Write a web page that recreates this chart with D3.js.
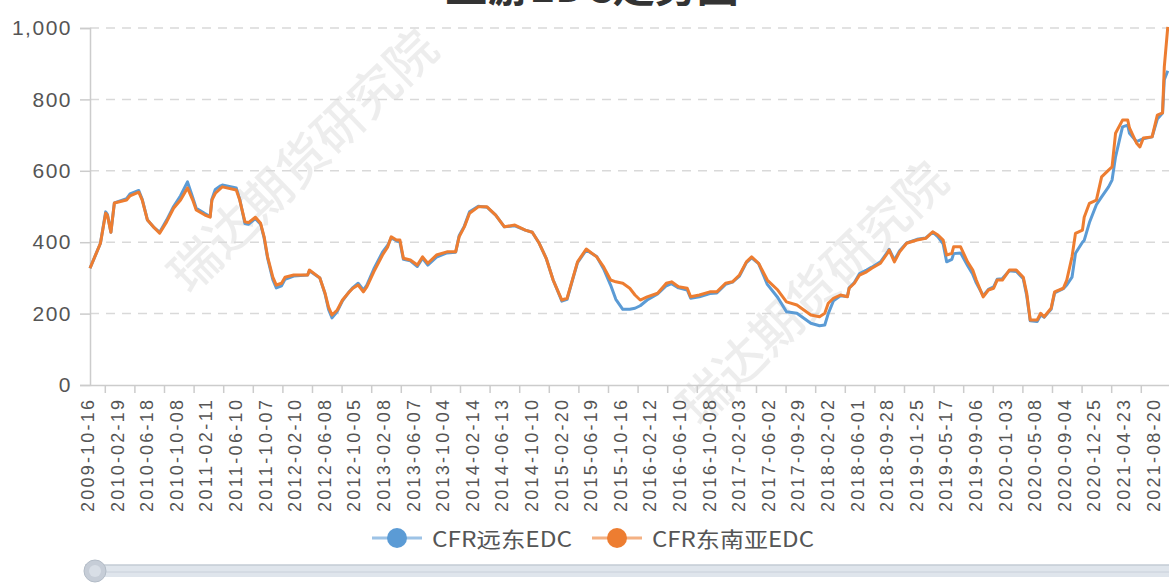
<!DOCTYPE html>
<html>
<head>
<meta charset="utf-8">
<script src="https://cdn.jsdelivr.net/npm/d3@7"></script>
<style>
  body { margin: 0; background: #fff; }
  svg { display: block; font-family: "Microsoft YaHei", "Noto Sans CJK SC", sans-serif; }
</style>
</head>
<body>
<div id="chart"></div>
<script>
// x axis: weekly categories, one label shown every 17 weeks
const tickLabels = ['2009-10-16','2010-02-19','2010-06-18','2010-10-08','2011-02-11','2011-06-10','2011-10-07',
  '2012-02-10','2012-06-08','2012-10-05','2013-02-08','2013-06-07','2013-10-04','2014-02-14','2014-06-13',
  '2014-10-10','2015-02-20','2015-06-19','2015-10-16','2016-02-12','2016-06-10','2016-10-08','2017-02-03',
  '2017-06-02','2017-09-29','2018-02-02','2018-06-01','2018-09-28','2019-01-25','2019-05-17','2019-09-06',
  '2020-01-03','2020-05-08','2020-09-04','2020-12-25','2021-04-23','2021-08-20'];
const labelStep = 17;
const lastWeek = 622;

// week index of each sample (0 = 2009-10-16)
const weekIdx = [0,6,9,10,12,14,21,23,28,30,33,37,40,44,48,52,56,59,61,66,69,70,72,75,76,84,86,89,91,95,
  98,100,102,105,107,110,112,117,125,126,132,135,137,139,142,145,149,151,154,157,159,163,168,171,173,176,178,180,184,188,
  191,194,199,205,210,212,215,218,223,228,233,238,244,250,254,258,262,266,271,274,277,280,285,291,295,299,302,306,310,313,
  316,320,326,331,334,338,343,345,350,356,360,365,369,373,377,380,384,389,395,400,406,414,419,422,424,427,431,435,436,439,
  442,446,449,454,458,459,462,465,469,475,480,484,487,490,492,495,496,500,504,507,509,513,516,519,521,524,528,532,536,538,
  540,544,546,548,552,554,559,561,564,566,570,571,574,578,581,585,587,589,593,596,597,601,603,605,610,613,616,617,619];

const cfrFarEast = [327,397,485,478,428,510,522,535,545,520,462,440,428,462,500,530,569,525,495,480,
  472,520,548,558,560,552,520,452,450,466,450,412,355,295,272,278,296,305,308,320,
  300,255,212,188,206,236,262,273,285,266,280,325,372,392,412,404,400,352,348,332,
  355,336,358,370,372,418,445,485,501,498,476,443,446,434,428,397,355,294,235,240,
  292,343,378,360,325,280,240,212,212,215,222,238,255,278,284,272,266,243,247,256,
  258,282,288,305,343,356,340,282,245,205,201,173,166,168,200,236,250,248,272,287,
  312,322,330,345,372,380,350,376,398,408,412,428,415,395,345,352,368,370,335,310,
  286,250,268,275,296,298,320,318,298,250,180,178,196,190,212,258,270,280,302,369,
  400,405,455,505,527,555,574,639,723,728,705,682,686,690,695,745,762,855,880];

const cfrSEAsia = [327,397,481,475,428,510,518,530,540,518,462,440,425,457,495,518,552,518,490,476,
  470,518,537,551,555,546,518,457,455,470,453,415,359,302,280,285,302,308,308,322,
  300,257,218,196,210,238,261,271,280,261,275,317,364,387,415,406,406,355,350,336,
  359,341,364,373,373,415,443,481,499,499,476,443,448,434,428,397,355,294,238,243,
  294,345,381,359,331,294,289,285,271,252,238,247,257,285,289,275,271,247,252,261,
  261,285,289,308,345,359,341,294,266,233,224,196,191,201,229,243,252,247,271,285,
  308,317,327,341,369,378,345,373,397,406,411,429,420,406,364,369,387,387,345,322,
  294,247,266,271,294,294,322,322,302,257,182,182,201,191,215,261,271,294,359,425,
  434,470,509,518,583,602,611,705,742,742,720,678,667,692,695,756,762,891,1003];

const yTicks = [0, 200, 400, 600, 800, 1000];
const seriesNames = ['CFR远东EDC', 'CFR东南亚EDC'];
const colors = ['#5b9bd5', '#ed7d31'];

const width = 1169;
const height = 583;
const margin = {top: 28, left: 90, bottom: 198};

const svg = d3.select('#chart')
  .append('svg')
  .attr('width', width)
  .attr('height', height);

const x = d3.scaleLinear()
  .domain([0, lastWeek])
  .range([margin.left, 1173]);

const y = d3.scaleLinear()
  .domain([0, 1000])
  .range([height - margin.bottom, margin.top]);

// title (cut off at the top of the picture, as in the source)
svg.append('text')
  .attr('x', 592)
  .attr('y', 2)
  .attr('text-anchor', 'middle')
  .attr('font-size', 42)
  .attr('font-weight', 'bold')
  .attr('fill', '#333')
  .text('上游EDC走势图');

// watermark
[[300, 158], [810, 290]].forEach(([cx, cy]) => {
  svg.append('text')
    .attr('transform', `translate(${cx},${cy}) rotate(-44)`)
    .attr('text-anchor', 'middle')
    .attr('dominant-baseline', 'central')
    .attr('font-size', 50)
    .attr('font-weight', 500)
    .attr('fill', '#000')
    .attr('fill-opacity', 0.07)
    .text('瑞达期货研究院');
});

// grid
svg.append('g')
  .selectAll('line')
  .data(yTicks.filter(d => d > 0))
  .join('line')
    .attr('x1', margin.left)
    .attr('x2', width)
    .attr('y1', d => y(d))
    .attr('y2', d => y(d))
    .attr('stroke', '#d9d9d9')
    .attr('stroke-width', 1.5)
    .attr('stroke-dasharray', '9,7');

// y axis
svg.append('g')
  .attr('transform', `translate(${margin.left},0)`)
  .call(d3.axisLeft(y).tickValues(yTicks).tickSize(10).tickPadding(8).tickFormat(d3.format(',')))
  .call(g => g.select('.domain').attr('stroke', '#ccc').attr('stroke-width', 1.5))
  .call(g => g.selectAll('.tick line').attr('stroke', '#ccc').attr('stroke-width', 1.5))
  .call(g => g.selectAll('.tick text')
    .attr('font-size', 21)
    .attr('letter-spacing', '1.5px')
    .attr('fill', '#555')
    .attr('font-family', 'Arial, "Liberation Sans", sans-serif'));

// x axis: ticks sit halfway between labels
const labelIdx = tickLabels.map((d, i) => i * labelStep);
const tickIdx = labelIdx.map(i => i + labelStep / 2).filter(i => i < lastWeek);

svg.append('g')
  .attr('transform', `translate(0,${y(0)})`)
  .call(d3.axisBottom(x).tickValues(tickIdx).tickSize(8).tickSizeOuter(0).tickFormat(''))
  .call(g => g.select('.domain').attr('stroke', '#ccc').attr('stroke-width', 1.5))
  .call(g => g.selectAll('.tick line').attr('stroke', '#ccc').attr('stroke-width', 1.5));

svg.append('g')
  .selectAll('text')
  .data(labelIdx)
  .join('text')
    .attr('transform', d => `translate(${x(d)},${y(0) + 15}) rotate(-90)`)
    .attr('y', -2)
    .attr('text-anchor', 'end')
    .attr('dominant-baseline', 'central')
    .attr('font-size', 18)
    .attr('font-family', 'Arial, "Liberation Sans", sans-serif')
    .attr('fill', '#555')
    .attr('textLength', 112)
    .attr('lengthAdjust', 'spacing')
    .text((d, i) => tickLabels[i]);

// lines
const series = [cfrFarEast, cfrSEAsia];
const line = d3.line()
  .x((d, i) => x(weekIdx[i]))
  .y(d => y(d));

svg.append('g')
  .selectAll('path')
  .data(series)
  .join('path')
    .attr('d', line)
    .attr('fill', 'none')
    .attr('stroke', (d, i) => colors[i])
    .attr('stroke-width', 3)
    .attr('stroke-linejoin', 'round');

// legend
const legendItems = [
  {x: 372, textLen: 140},
  {x: 592, textLen: 162}
];
const legend = svg.append('g')
  .selectAll('g')
  .data(seriesNames)
  .join('g')
    .attr('transform', (d, i) => `translate(${legendItems[i].x},538)`);

legend.append('line')
  .attr('x1', 0).attr('x2', 50)
  .attr('stroke', (d, i) => colors[i])
  .attr('stroke-opacity', 0.6)
  .attr('stroke-width', 3);
legend.append('circle')
  .attr('cx', 25)
  .attr('r', 10)
  .attr('fill', (d, i) => colors[i]);
legend.append('text')
  .attr('x', 60)
  .attr('dominant-baseline', 'central')
  .attr('font-size', 21)
  .attr('fill', '#555')
  .attr('textLength', (d, i) => legendItems[i].textLen)
  .attr('lengthAdjust', 'spacingAndGlyphs')
  .text(d => d);

// data zoom slider
const slider = svg.append('g');
slider.append('rect')
  .attr('x', 85).attr('y', 565)
  .attr('width', 1100).attr('height', 12)
  .attr('fill', '#dfe5ec');
slider.append('line')
  .attr('x1', 85).attr('x2', width)
  .attr('y1', 565).attr('y2', 565)
  .attr('stroke', '#c3cbd5').attr('stroke-width', 1.5);
slider.append('line')
  .attr('x1', 85).attr('x2', width)
  .attr('y1', 572).attr('y2', 572)
  .attr('stroke', '#c9d0da').attr('stroke-width', 1);
slider.append('circle')
  .attr('cx', 95).attr('cy', 571).attr('r', 11)
  .attr('fill', '#c6cdd7').attr('stroke', '#b3bcc7');
slider.append('circle')
  .attr('cx', 95).attr('cy', 571).attr('r', 6)
  .attr('fill', '#d8dee6');
</script>
</body>
</html>
